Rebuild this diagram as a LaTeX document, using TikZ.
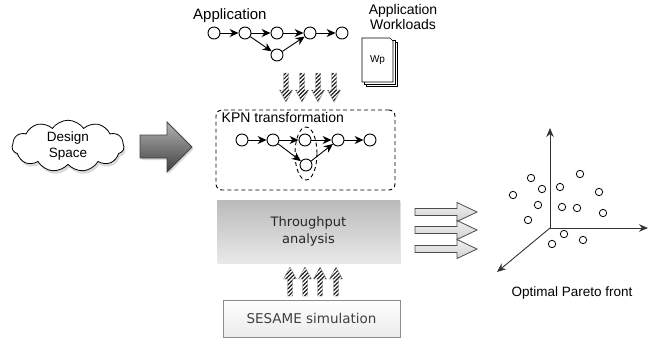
\documentclass[tikz,border=0pt]{standalone}
\usepackage{fontspec}
\setmainfont{Liberation Sans}
\newfontfamily\verdfont{DejaVu Sans}
\usetikzlibrary{shapes.symbols,shapes.geometric,arrows.meta,shadows,patterns.meta,calc}

\begin{document}
\begin{tikzpicture}[x=1pt,y=-1pt,
  task/.style={circle,draw,line width=0.9pt,minimum size=12pt,inner sep=0pt,fill=white},
  flow/.style={-{Stealth[length=9pt,width=8pt]},line width=0.9pt},
  lbl/.style={font=\fontsize{14}{15.5}\selectfont,inner sep=0pt},
  pt/.style={circle,draw,line width=0.8pt,minimum size=7.4pt,inner sep=0pt},
  axis/.style={-{Stealth[length=9pt,width=7.5pt]},line width=0.9pt,draw=black!80},
  page/.style={draw,fill=white,line width=0.6pt},
  hatch/.style={draw=black!45,line width=0.4pt,
    pattern={Lines[angle=45,distance=2.8pt,line width=1.2pt]},pattern color=black!90},
  hollow/.style={draw=black!70,line width=0.8pt,top color=black!6,bottom color=black!18},
  hatchdown/.pic={\path[hatch] (-2.5,-29) -- (2.5,-29) -- (2.5,-12) -- (6.5,-12)
      -- (0,0) -- (-6.5,-12) -- (-2.5,-12) -- cycle;},
  hatchup/.pic={\path[hatch] (-2.5,29) -- (2.5,29) -- (2.5,12) -- (6.5,12)
      -- (0,0) -- (-6.5,12) -- (-2.5,12) -- cycle;},
  outarrow/.pic={\path[hollow] (0,-3.5) -- (42,-3.5) -- (42,-9.5) -- (62,0)
      -- (42,9.5) -- (42,3.5) -- (0,3.5) -- cycle;},
]
\useasboundingbox (0,0) rectangle (660,351);

% application task graph
\node[lbl,anchor=west] (applbl) at (193,16) {\fontsize{15}{16}\selectfont Application};
\node[task] (a1) at (214,33) {};
\node[task] (a2) at (245,33) {};
\node[task] (a3) at (277,33) {};
\node[task] (a4) at (310,33) {};
\node[task] (a5) at (342,33) {};
\node[task] (a6) at (277,55) {};
\draw[flow] (a1) -- (a2);
\draw[flow] (a2) -- (a3);
\draw[flow] (a3) -- (a4);
\draw[flow] (a4) -- (a5);
\draw[flow] (a2) -- (a6);
\draw[flow] (a6) -- (a4);

% application workloads: stack of pages
\node[lbl,align=center] (wllbl) at (403,17) {Application\\Workloads};
\path[page] (366,42) rectangle (397,86);
\path[page] (364,40) rectangle (395,84);
\path[page] (362,38) -- (390,38) -- (393,41) -- (393,82) -- (362,82) -- cycle;
\node[font=\fontsize{10}{11}\selectfont] (wp) at (377.5,60) {Wp};

% hatched arrows into the KPN stage
\foreach \x in {286,302,318,334} \pic at (\x,102) {hatchdown};

% KPN transformation
\node[draw,dash pattern=on 4pt off 3pt,line width=0.9pt,rounded corners=6pt,
      minimum width=179pt,minimum height=80pt] (kpn) at (305.5,150) {};
\node[lbl,anchor=west] (kpnlbl) at (221.5,117) {KPN transformation};
\node[draw,dash pattern=on 4pt off 3pt,line width=0.9pt,ellipse,
      minimum width=22pt,minimum height=53pt] (part) at (306,153.5) {};
\node[task,fill=none] (k1) at (242,140) {};
\node[task,fill=none] (k2) at (273,140) {};
\node[task,fill=none] (k3) at (305,140) {};
\node[task,fill=none] (k4) at (338,140) {};
\node[task,fill=none] (k5) at (370,140) {};
\node[task,fill=none] (k6) at (306,165) {};
\draw[flow] (k1) -- (k2);
\draw[flow] (k2) -- (k3);
\draw[flow] (k3) -- (k4);
\draw[flow] (k4) -- (k5);
\draw[flow] (k2) -- (k6);
\draw[flow] (k6) -- (k4);

% design space
\node[cloud,cloud puffs=11,cloud puff arc=110,aspect=2.3,draw,line width=0.8pt,
      fill=white,minimum width=112pt,minimum height=50pt,inner sep=0pt,
      drop shadow={shadow xshift=1.5pt,shadow yshift=-3pt,opacity=0.3},
      align=center,font=\fontsize{13.5}{15.5}\selectfont] (ds) at (68,146) {Design\\Space};
\path[draw=black!75,line width=0.8pt,top color=black!30,bottom color=black!75,
      drop shadow={shadow xshift=1.5pt,shadow yshift=-2pt,opacity=0.3}]
  (140,135) -- (167,135) -- (167,122) -- (192,147) -- (167,172) -- (167,158)
  -- (140,158) -- cycle;

% throughput analysis
\node[top color=black!27,bottom color=black!9,minimum width=183pt,minimum height=62pt,
      drop shadow={shadow xshift=1pt,shadow yshift=-1.5pt,opacity=0.2},
      align=center,text=black!85,font=\verdfont\fontsize{13}{17}\selectfont]
  (tput) at (308.5,231) {Throughput\\analysis};

% results towards the Pareto front
\foreach \y in {212,230,249} \pic at (415,\y) {outarrow};

% hatched arrows from the simulation
\foreach \x in {290,305,320,336} \pic at (\x,267) {hatchup};

% SESAME simulation
\node[draw=black!45,line width=0.6pt,top color=white,bottom color=black!8,
      minimum width=177pt,minimum height=37pt,
      drop shadow={shadow xshift=1pt,shadow yshift=-1pt,opacity=0.2},
      text=black!75,font=\verdfont\fontsize{13.5}{16}\selectfont]
  (sesame) at (311.5,318.5) {SESAME simulation};

% Pareto front axes
\coordinate (o) at (550,228);
\coordinate (yax) at (550,128);
\coordinate (xax) at (648,228);
\coordinate (zax) at (497,272);
\draw[axis] (o) -- (yax);
\draw[axis] (o) -- (xax);
\draw[axis] (o) -- (zax);
\foreach \px/\py [count=\i] in {531/178,580/174,542/189,560/187,513/195,599/192,538/205,
    562/207,577/208,603/213,528/220,564/234,583/240,552/244}
  \node[pt] (p\i) at (\px,\py) {};
\node[font=\fontsize{13.5}{15}\selectfont] (paretolbl) at (572,293) {Optimal Pareto front};
\end{tikzpicture}
\end{document}
